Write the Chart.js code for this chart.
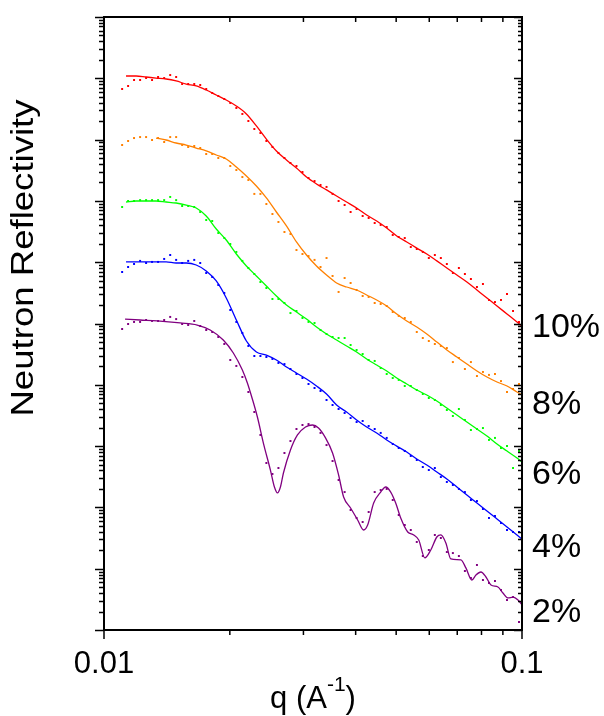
<!DOCTYPE html>
<html>
<head>
<meta charset="utf-8">
<title>Neutron Reflectivity</title>
<script src="https://cdn.jsdelivr.net/npm/chart.js@4.4.1/dist/chart.umd.min.js"></script>
<style>
  html, body { margin: 0; padding: 0; background: #fff; }
  #wrap { width: 604px; height: 716px; }
</style>
</head>
<body>
<div id="wrap"><canvas id="nr" width="604" height="716"></canvas></div>
<script>
// measured q points (A^-1), shared by all five data sets
const qDots = [0.01105, 0.01142, 0.01180, 0.01220, 0.01261, 0.01303, 0.01347, 0.01393, 0.01440, 0.01488,
  0.01538, 0.01590, 0.01644, 0.01699, 0.01756, 0.01815, 0.01877, 0.01940, 0.02005, 0.02073,
  0.02143, 0.02215, 0.02289, 0.02367, 0.02446, 0.02529, 0.02614, 0.02702, 0.02793, 0.02887,
  0.02984, 0.03085, 0.03189, 0.03296, 0.03407, 0.03522, 0.03641, 0.03764, 0.03890, 0.04021,
  0.04157, 0.04297, 0.04442, 0.04591, 0.04746, 0.04906, 0.05071, 0.05242, 0.05419, 0.05601,
  0.05790, 0.05985, 0.06187, 0.06395, 0.06610, 0.06833, 0.07063, 0.07301, 0.07547, 0.07802,
  0.08064, 0.08336, 0.08617, 0.08907, 0.09207, 0.09518, 0.09836];

const dots10 = [6.69e-2, 7.49e-2, 9.38e-2, 9.38e-2, 1.01e-1, 9.38e-2, 1.05e-1, 1.01e-1, 1.13e-1, 1.05e-1,
  8.07e-2, 8.07e-2, 8.07e-2, 7.78e-2, 6.69e-2, 5.76e-2, 5.14e-2, 4.60e-2, 3.96e-2, 3.28e-2,
  2.62e-2, 2.01e-2, 1.49e-2, 1.28e-2, 9.49e-3, 7.57e-3, 6.05e-3, 5.01e-3, 4.15e-3, 3.71e-3,
  2.96e-3, 2.36e-3, 2.11e-3, 1.82e-3, 1.69e-3, 1.30e-3, 9.96e-4, 8.57e-4, 6.59e-4, 7.38e-4,
  5.67e-4, 5.26e-4, 4.36e-4, 4.05e-4, 3.75e-4, 2.78e-4, 2.58e-4, 2.48e-4, 1.77e-4, 1.64e-4,
  1.47e-4, 1.17e-4, 1.31e-4, 1.17e-4, 9.35e-5, 6.66e-5, 8.04e-5, 6.42e-5, 5.32e-5, 3.94e-5,
  4.41e-5, 2.42e-5, 2.24e-5, 2.42e-5, 3.03e-5, 1.60e-5, 1.06e-5];

const dots8 = [8.16e-3, 9.49e-3, 1.06e-2, 1.10e-2, 1.10e-2, 9.85e-3, 1.06e-2, 9.14e-3, 1.10e-2, 1.10e-2,
  8.16e-3, 7.57e-3, 7.86e-3, 7.29e-3, 5.82e-3, 5.82e-3, 5.01e-3, 5.01e-3, 3.71e-3, 3.19e-3,
  2.45e-3, 2.19e-3, 1.30e-3, 1.30e-3, 8.90e-4, 6.11e-4, 4.53e-4, 3.11e-4, 2.88e-4, 1.58e-4,
  1.36e-4, 1.26e-4, 1.09e-4, 8.35e-5, 1.17e-4, 5.96e-5, 3.27e-5, 5.52e-5, 4.58e-5, 3.52e-5,
  2.81e-5, 2.71e-5, 2.16e-5, 2.08e-5, 1.93e-5, 1.54e-5, 1.33e-5, 1.23e-5, 1.06e-5, 7.27e-6,
  5.80e-6, 5.18e-6, 4.63e-6, 4.30e-6, 3.98e-6, 2.35e-6, 2.74e-6, 1.81e-6, 2.35e-6, 1.39e-6,
  1.62e-6, 1.45e-6, 1.50e-6, 1.15e-6, 7.63e-7, 8.54e-7, 1.03e-6];

const dots6 = [7.95e-4, 9.96e-4, 9.96e-4, 1.03e-3, 1.03e-3, 1.03e-3, 1.03e-3, 1.03e-3, 1.16e-3, 1.03e-3,
  8.26e-4, 8.26e-4, 7.95e-4, 6.59e-4, 4.88e-4, 4.70e-4, 2.99e-4, 2.48e-4, 1.98e-4, 1.47e-4,
  1.05e-4, 8.04e-5, 6.42e-5, 4.75e-5, 3.79e-5, 2.51e-5, 2.51e-5, 2.16e-5, 1.48e-5, 1.60e-5,
  1.23e-5, 1.06e-5, 1.02e-5, 7.83e-6, 6.74e-6, 6.02e-6, 5.80e-6, 5.80e-6, 4.46e-6, 3.70e-6,
  3.18e-6, 2.54e-6, 2.45e-6, 1.88e-6, 1.50e-6, 1.29e-6, 1.20e-6, 9.56e-7, 9.56e-7, 8.23e-7,
  7.08e-7, 6.09e-7, 5.65e-7, 4.68e-7, 3.88e-7, 3.10e-7, 4.03e-7, 2.67e-7, 1.83e-7, 1.90e-7,
  1.97e-7, 1.26e-7, 1.36e-7, 9.31e-8, 1.00e-7, 4.39e-8, 8.32e-8];

const dots4 = [6.92e-5, 8.35e-5, 9.35e-5, 1.05e-4, 9.70e-5, 1.01e-4, 1.01e-4, 1.13e-4, 1.31e-4, 1.09e-4,
  9.70e-5, 1.05e-4, 1.09e-4, 9.70e-5, 6.66e-5, 5.74e-5, 4.25e-5, 3.15e-5, 1.66e-5, 1.06e-5,
  7.00e-6, 4.30e-6, 2.95e-6, 2.95e-6, 2.84e-6, 2.64e-6, 2.27e-6, 2.18e-6, 1.81e-6, 1.50e-6,
  1.29e-6, 1.03e-6, 8.87e-7, 7.92e-7, 5.65e-7, 4.68e-7, 4.03e-7, 3.47e-7, 2.87e-7, 2.47e-7,
  2.57e-7, 2.13e-7, 1.90e-7, 1.64e-7, 1.36e-7, 1.08e-7, 9.31e-8, 8.32e-8, 6.90e-8, 5.93e-8,
  4.56e-8, 4.07e-8, 4.39e-8, 3.13e-8, 2.60e-8, 2.32e-8, 2.00e-8, 1.78e-8, 1.32e-8, 1.27e-8,
  9.42e-9, 6.72e-9, 7.24e-9, 5.57e-9, 4.28e-9, 3.97e-9, 3.97e-9];

const dots2 = [8.13e-6, 9.81e-6, 1.06e-5, 1.06e-5, 1.14e-5, 1.10e-5, 1.10e-5, 1.14e-5, 1.28e-5, 1.18e-5,
  9.81e-6, 9.45e-6, 1.10e-5, 9.10e-6, 7.83e-6, 7.27e-6, 6.02e-6, 4.63e-6, 2.54e-6, 2.03e-6,
  1.34e-6, 7.63e-7, 3.60e-7, 1.52e-7, 5.30e-8, 3.51e-8, 4.39e-8, 7.72e-8, 1.21e-7, 1.90e-7,
  2.21e-7, 2.29e-7, 2.05e-7, 1.64e-7, 1.04e-7, 5.71e-8, 2.80e-8, 1.78e-8, 9.07e-9, 6.72e-9,
  5.78e-9, 8.41e-9, 1.78e-8, 1.92e-8, 2.00e-8, 1.32e-8, 7.52e-9, 5.16e-9, 4.28e-9, 2.73e-9,
  1.61e-9, 2.02e-9, 3.55e-9, 3.17e-9, 1.87e-9, 1.80e-9, 1.61e-9, 9.17e-10, 7.05e-10, 1.15e-9,
  6.54e-10, 5.85e-10, 6.30e-10, 4.49e-10, 3.09e-10, 3.45e-10, 1.35e-10];

// fitted curves
const qFit = [0.01129, 0.01193, 0.01261, 0.01332, 0.01408, 0.01488, 0.01573, 0.01662, 0.01756, 0.01856,
  0.01961, 0.02073, 0.02191, 0.02315, 0.02446, 0.02585, 0.02732, 0.02887, 0.03051, 0.03224,
  0.03407, 0.03601, 0.03805, 0.04021, 0.04250, 0.04491, 0.04746, 0.05016, 0.05300, 0.05601,
  0.05919, 0.06255, 0.06610, 0.06986, 0.07382, 0.07802, 0.08245, 0.08713, 0.09207, 0.09728, 0.1];

const fit10 = [1.09e-1, 1.09e-1, 1.05e-1, 1.01e-1, 9.74e-2, 9.04e-2, 8.07e-2, 7.49e-2, 6.44e-2, 5.34e-2,
  4.43e-2, 3.53e-2, 2.62e-2, 1.67e-2, 1.02e-2, 6.52e-3, 4.65e-3, 3.44e-3, 2.45e-3, 1.89e-3,
  1.51e-3, 1.20e-3, 9.60e-4, 7.66e-4, 5.89e-4, 4.70e-4, 3.61e-4, 2.68e-4, 2.14e-4, 1.70e-4,
  1.36e-4, 1.05e-4, 8.04e-5, 6.18e-5, 4.75e-5, 3.52e-5, 2.61e-5, 1.93e-5, 1.43e-5, 1.06e-5, 9.10e-6];

const fit8 = [null, null, null, 1.06e-2, 9.85e-3, 8.80e-3, 8.16e-3, 7.29e-3, 6.52e-3, 5.61e-3,
  4.83e-3, 3.57e-3, 2.55e-3, 1.75e-3, 1.12e-3, 6.59e-4, 3.90e-4, 2.14e-4, 1.31e-4, 8.67e-5,
  6.18e-5, 4.58e-5, 3.94e-5, 3.52e-5, 2.92e-5, 2.42e-5, 1.93e-5, 1.43e-5, 1.10e-5, 8.77e-6,
  6.74e-6, 4.99e-6, 3.70e-6, 2.84e-6, 2.18e-6, 1.68e-6, 1.34e-6, 1.11e-6, 9.56e-7, 7.63e-7, 6.82e-7];

const fit6 = [9.60e-4, 9.96e-4, 9.96e-4, 9.96e-4, 9.60e-4, 9.24e-4, 8.57e-4, 7.66e-4, 5.67e-4, 3.48e-4,
  2.30e-4, 1.36e-4, 8.67e-5, 5.96e-5, 4.09e-5, 2.81e-5, 2.00e-5, 1.54e-5, 1.18e-5, 8.77e-6,
  6.74e-6, 5.38e-6, 4.30e-6, 3.43e-6, 2.64e-6, 2.10e-6, 1.68e-6, 1.29e-6, 1.03e-6, 8.23e-7,
  6.82e-7, 5.44e-7, 4.18e-7, 3.22e-7, 2.47e-7, 1.90e-7, 1.46e-7, 1.08e-7, 8.32e-8, 6.40e-8, 5.50e-8];

const fit4 = [1.01e-4, 1.01e-4, 1.01e-4, 1.01e-4, 1.01e-4, 9.70e-5, 9.70e-5, 9.00e-5, 7.19e-5, 4.94e-5,
  2.61e-5, 1.14e-5, 5.18e-6, 3.43e-6, 3.06e-6, 2.54e-6, 1.95e-6, 1.56e-6, 1.24e-6, 9.56e-7,
  7.08e-7, 4.68e-7, 3.60e-7, 2.67e-7, 2.05e-7, 1.64e-7, 1.26e-7, 1.00e-7, 8.01e-8, 6.16e-8,
  4.92e-8, 3.78e-8, 2.91e-8, 2.15e-8, 1.59e-8, 1.18e-8, 8.74e-9, 6.47e-9, 4.79e-9, 3.55e-9, 3.05e-9];

// the 2% fit has fringes, so it gets its own, denser q list
const qFit2 = [0.01123, 0.01220, 0.01340, 0.01521, 0.01671, 0.01795, 0.01929, 0.02039, 0.02143, 0.02203,
  0.02264, 0.02328, 0.02406, 0.02501, 0.02557, 0.02600, 0.02643, 0.02687, 0.02793,
  0.02903, 0.03034, 0.03154, 0.03260, 0.03388, 0.03522, 0.03641, 0.03743, 0.03890,
  0.04044, 0.04179, 0.04273, 0.04417, 0.04591, 0.04720, 0.04852, 0.04987, 0.05127,
  0.05329, 0.05508, 0.05662, 0.05854, 0.06051, 0.06255, 0.06395, 0.06574, 0.06758,
  0.07142, 0.07341, 0.07588, 0.07759, 0.07976, 0.08199, 0.08429, 0.08759, 0.09004,
  0.09256, 0.09518, 0.09782, 0.1];

const fit2 = [1.18e-5, 1.14e-5, 1.10e-5, 1.02e-5, 9.45e-6, 7.83e-6, 5.38e-6, 3.30e-6, 1.74e-6, 1.07e-6,
  5.87e-7, 2.98e-7, 1.12e-7, 4.07e-8, 2.15e-8, 1.72e-8, 2.15e-8, 3.64e-8, 8.64e-8,
  1.52e-7, 2.05e-7, 2.21e-7, 1.97e-7, 1.36e-7, 7.72e-8, 3.38e-8, 1.48e-8, 9.78e-9,
  6.23e-9, 4.28e-9, 5.16e-9, 1.18e-8, 1.78e-8, 2.15e-8, 1.78e-8, 1.18e-8, 6.72e-9,
  3.97e-9, 3.55e-9, 2.94e-9, 1.50e-9, 2.02e-9, 3.29e-9, 3.55e-9, 2.63e-9, 1.44e-9,
  1.39e-9, 1.03e-9, 6.54e-10, 7.89e-10, 8.84e-10, 7.32e-10, 5.42e-10, 5.03e-10, 4.01e-10,
  3.33e-10, 3.45e-10, 3.09e-10, 2.56e-10];

const seriesNames = ['10%', '8%', '6%', '4%', '2%'];
const seriesColors = ['#ff0000', '#ff8000', '#00ff00', '#0000ff', '#800080'];
// reflectivity level where each % label sits on the right
const labelLevel = [9.45e-6, 5.24e-7, 3.78e-8, 2.43e-9, 2.12e-10];

const dotSets = [dots10, dots8, dots6, dots4, dots2];
const fitSets = [[qFit, fit10], [qFit, fit8], [qFit, fit6], [qFit, fit4], [qFit2, fit2]];

function toPoints(qs, vals) {
  return qs.map((q, i) => ({ x: q, y: vals[i] })).filter(p => p.y !== null);
}

const datasets = [];
seriesNames.forEach((name, i) => {
  datasets.push({
    label: name + ' data',
    data: toPoints(qDots, dotSets[i]),
    showLine: false,
    pointStyle: 'rect',
    pointRadius: 1.4,
    pointBorderWidth: 0,
    pointBackgroundColor: seriesColors[i],
    pointBorderColor: seriesColors[i]
  });
  datasets.push({
    label: name + ' fit',
    data: toPoints(fitSets[i][0], fitSets[i][1]),
    showLine: true,
    borderColor: seriesColors[i],
    borderWidth: 1.3,
    pointRadius: 0,
    fill: false,
    cubicInterpolationMode: 'monotone'
  });
});

const FONT = '"Liberation Sans", Arial, Helvetica, sans-serif';

// frame, ticks and all texts
const framePlugin = {
  id: 'frame',
  afterDraw(chart) {
    const ctx = chart.ctx;
    const a = chart.chartArea;
    const xs = chart.scales.x, ys = chart.scales.y;
    ctx.save();
    ctx.strokeStyle = '#000';
    ctx.lineWidth = 2;
    ctx.strokeRect(a.left, a.top, a.right - a.left, a.bottom - a.top);

    ctx.lineWidth = 1.5;
    ctx.beginPath();
    for (let d = 1; d <= 10; d++) {
      const px = xs.getPixelForValue(d * 0.01);
      const major = (d === 1 || d === 10);
      ctx.moveTo(px, a.bottom);
      ctx.lineTo(px, a.bottom + (major ? 9 : 5));
      if (!major) {
        ctx.moveTo(px, a.top);
        ctx.lineTo(px, a.top + 5);
      }
    }
    for (let e = -10; e <= 0; e++) {
      for (let m = 1; m <= 9; m++) {
        const v = m * Math.pow(10, e);
        if (v > 1.0001) break;
        const py = Math.round(ys.getPixelForValue(v)) + 0.5;
        const major = m === 1;
        ctx.moveTo(a.left, py);
        ctx.lineTo(a.left - (major ? 9 : 5), py);
        ctx.moveTo(a.right, py);
        ctx.lineTo(a.right - (major ? 8 : 4), py);
      }
    }
    ctx.stroke();

    ctx.fillStyle = '#000';
    ctx.textBaseline = 'alphabetic';

    // x tick labels
    ctx.font = '31px ' + FONT;
    ctx.textAlign = 'center';
    ctx.fillText('0.01', xs.getPixelForValue(0.01), 673);
    ctx.fillText('0.1', xs.getPixelForValue(0.1), 673);

    // x title  q (A^-1)
    const big = '31px ' + FONT, small = '21px ' + FONT;
    ctx.font = big;
    const w1 = ctx.measureText('q (A').width;
    const w3 = ctx.measureText(')').width;
    ctx.font = small;
    const w2 = ctx.measureText('-1').width;
    let tx = 313 - (w1 + w2 + w3) / 2;
    ctx.textAlign = 'left';
    ctx.font = big;
    ctx.fillText('q (A', tx, 708);
    ctx.font = small;
    ctx.fillText('-1', tx + w1, 691);
    ctx.font = big;
    ctx.fillText(')', tx + w1 + w2, 708);

    // right-hand series labels
    ctx.font = '34px ' + FONT;
    ctx.textAlign = 'left';
    seriesNames.forEach((name, i) => {
      ctx.fillText(name, 532, ys.getPixelForValue(labelLevel[i]) + 12);
    });

    // y title
    ctx.save();
    ctx.translate(33, 258);
    ctx.rotate(-Math.PI / 2);
    ctx.scale(1.18, 1);
    ctx.font = '31px ' + FONT;
    ctx.textAlign = 'center';
    ctx.fillText('Neutron Reflectivity', 0, 0);
    ctx.restore();

    ctx.restore();
  }
};

const chart = new Chart(document.getElementById('nr'), {
  type: 'scatter',
  data: { datasets: datasets },
  options: {
    responsive: false,
    animation: false,
    devicePixelRatio: 1,
    events: [],
    layout: { padding: { left: 104, right: 82, top: 17, bottom: 86 } },
    scales: {
      x: { type: 'logarithmic', min: 0.01, max: 0.1, display: false },
      y: { type: 'logarithmic', min: 1e-10, max: 1, display: false }
    },
    plugins: {
      legend: { display: false },
      tooltip: { enabled: false }
    }
  },
  plugins: [framePlugin]
});
</script>
</body>
</html>
